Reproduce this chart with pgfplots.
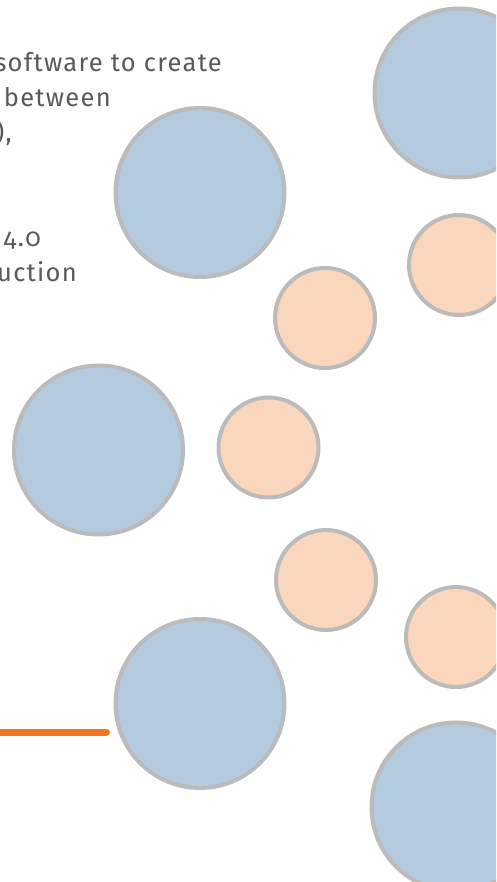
\documentclass[border=0pt]{standalone}
\usepackage{pgfplots}
\pgfplotsset{compat=1.18}
\usepackage{fontspec}
\setmainfont{Fira Sans}[Numbers=OldStyle]
\newfontfamily\txtfont{Fira Sans}[Numbers=OldStyle, LetterSpace=5]

\definecolor{bubbleblue}{HTML}{B4CADF}
\definecolor{bubbleorange}{HTML}{FAD6BC}
\definecolor{bubbleedge}{HTML}{BBBBBB}
\definecolor{lineorange}{HTML}{F07622}
\definecolor{textgray}{HTML}{58595B}

\begin{document}
\begin{tikzpicture}
\path[use as bounding box] (0,0) rectangle (496pt,882pt);
\clip (0,0) rectangle (496pt,882pt);
\begin{axis}[
    at={(0,0)}, anchor=south west,
    scale only axis,
    width=496pt, height=882pt,
    xmin=0, xmax=496, ymin=0, ymax=882,
    y dir=reverse,
    enlargelimits=false,
    hide axis,
    clip=false,
]

% large bubbles
\addplot[only marks, mark=*, mark size=84.5pt,
    mark options={fill=bubbleblue, draw=bubbleedge, line width=4pt}]
coordinates {
    (459,93) (200,192.5) (98.5,450) (200,703.5) (456,807)
};

% small bubbles
\addplot[only marks, mark=*, mark size=50pt,
    mark options={fill=bubbleorange, draw=bubbleedge, line width=4pt}]
coordinates {
    (459,265) (325,318) (268.5,447.5) (326,580) (456,637)
};

% orange connector
\addplot[lineorange, line width=7pt, line cap=round] coordinates {
    (-10,732) (106.5,732)
};

\begin{scope}[every node/.style={anchor=base east, inner sep=0pt,
        text=textgray, font=\txtfont\fontsize{25.5}{35}\selectfont}]
\node at (axis cs:222,71.7) {Industry uses software to create};
\node at (axis cs:111,106.7) {linking between};
\node at (axis cs:12,141.7) {(2010--2020),};
\node at (axis cs:41,246.7) {Industry 4.0};
\node at (axis cs:77,281.7) {production};
\end{scope}
\end{axis}
\end{tikzpicture}
\end{document}
